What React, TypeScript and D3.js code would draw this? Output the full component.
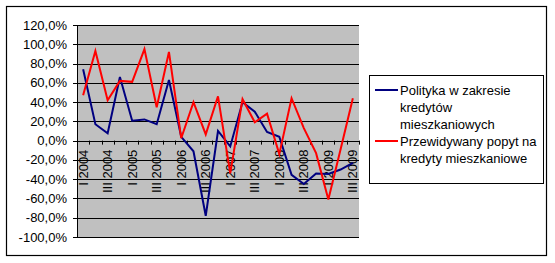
import React from "react";
import * as d3 from "d3";

const quarters = ["I", "II", "III", "IV"];
const years = [2004, 2005, 2006, 2007, 2008, 2009];
const categories: string[] = [];
years.forEach((y) => quarters.forEach((q) => categories.push(`${q} ${y}`)));
categories.splice(23); // I 2004 .. III 2009

const seriesNames = ["Polityka w zakresie kredytów mieszkaniowych", "Przewidywany popyt na kredyty mieszkaniowe"];
const polityka = [74, 17, 7.6, 66, 20.7, 22, 17, 63, 4, -11, -78, 10, -6, 40, 30, 9, 4, -35.5, -45, -34, -34.5, -30, -23];
const popyt = [47, 93, 42, 62, 61, 95, 34.6, 92, 2.5, 40, 6.5, 46, -34, 43, 19, 28, -14, 44, 13, -13, -61, -9, 44];
const yTicks = [120, 100, 80, 60, 40, 20, 0, -20, -40, -60, -80, -100];
const legendLines = [
  ["Polityka w zakresie", "kredytów", "mieszkaniowych"],
  ["Przewidywany popyt na", "kredyty mieszkaniowe"],
];
const colors = ["#000080", "#FF0000"];

const fmt = (v: number) => v.toFixed(1).replace(".", ",") + "%";

export default function App() {
  const left = 77, right = 359, top = 25, bottom = 237;
  const x = d3.scaleBand<string>().domain(categories).range([left, right]);
  const y = d3.scaleLinear().domain([-100, 120]).range([bottom, top]);
  const cx = (i: number) => (x(categories[i]) as number) + x.bandwidth() / 2;
  const line = d3
    .line<number>()
    .x((_, i) => cx(i))
    .y((d) => y(d));
  const font = "'Liberation Sans', Arial, sans-serif";
  const boundaries = categories.map((c) => x(c) as number).concat([right]);

  let ly = 90;
  const legendItems: React.ReactNode[] = [];
  legendLines.forEach((lines, si) => {
    legendItems.push(
      <line key={"l" + si} x1={375} x2={398} y1={ly} y2={ly} stroke={colors[si]} strokeWidth={2} />
    );
    lines.forEach((t, li) => {
      legendItems.push(
        <text key={`t${si}-${li}`} x={400} y={ly + li * 17} dy="0.35em" fontSize={13} fontFamily={font}>
          {t}
        </text>
      );
    });
    ly += lines.length * 17;
  });

  return (
    <svg
      width={555}
      height={263}
      style={{ position: "absolute", left: 0, top: 0, background: "#fff" }}
    >
      <rect x={6.5} y={6.5} width={540} height={249} fill="#fff" stroke="#000" strokeWidth={1.2} />
      <rect x={left} y={top} width={right - left} height={bottom - top} fill="#C0C0C0" />
      {yTicks.map((t) => (
        <g key={t}>
          <line x1={left - 4} x2={right} y1={Math.round(y(t)) + 0.5} y2={Math.round(y(t)) + 0.5} stroke="#000" />
          <text
            x={67}
            y={y(t)}
            dy="0.35em"
            textAnchor="end"
            fontSize={13}
            fontFamily={font}
          >
            {fmt(t)}
          </text>
        </g>
      ))}
      <line x1={left + 0.5} x2={left + 0.5} y1={top} y2={bottom} stroke="#000" />
      {boundaries.map((b, i) => (
        <line key={i} x1={Math.round(b) + 0.5} x2={Math.round(b) + 0.5} y1={y(0)} y2={y(0) + 4} stroke="#000" />
      ))}
      {categories.map((c, i) =>
        i % 2 === 0 ? (
          <text
            key={c}
            transform={`translate(${cx(i)},${y(0) + 9}) rotate(-90)`}
            textAnchor="end"
            dy="0.35em"
            fontSize={13}
            fontFamily={font}
          >
            {c}
          </text>
        ) : null
      )}
      {[polityka, popyt].map((s, si) => (
        <path key={si} d={line(s) as string} fill="none" stroke={colors[si]} strokeWidth={2} strokeLinejoin="miter" />
      ))}
      <rect x={369.5} y={75.5} width={174} height={108} fill="#fff" stroke="#000" />
      {legendItems}
      <title>{seriesNames.join(" / ")}</title>
    </svg>
  );
}
